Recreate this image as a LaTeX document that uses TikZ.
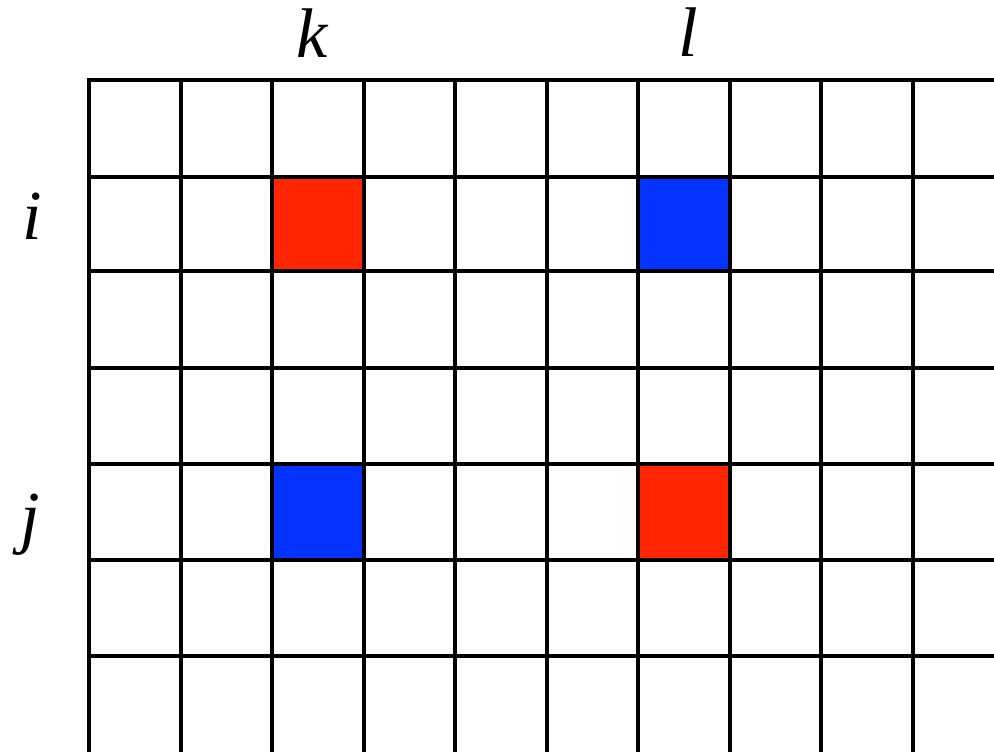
\documentclass[tikz,border=0pt]{standalone}
\usepackage{fontspec}
\setmainfont{Liberation Serif}
\definecolor{cellred}{RGB}{255,38,0}
\definecolor{cellblue}{RGB}{4,51,255}
\tikzset{gridline/.style={line width=1.8pt, line cap=rect},
  idx/.style={anchor=base, inner sep=0pt, font=\fontsize{40}{42}\selectfont\itshape}}
\begin{document}
\begin{tikzpicture}[x=0.02cm,y=-0.02cm]
\useasboundingbox (0,0) rectangle (994,751);
\fill[cellred] (272,177) rectangle (364,271);
\fill[cellblue] (638,177) rectangle (730,271);
\fill[cellblue] (272,464) rectangle (364,560);
\fill[cellred] (638,464) rectangle (730,560);
\foreach \x in {89,181,272,364,455,547,638,730,821,913}
  \draw[gridline] (\x,80) -- (\x,760);
\foreach \y in {80,177,271,368,464,560,656}
  \draw[gridline] (89,\y) -- (1000,\y);
\node[idx] (k) at (312,57) {k};
\node[idx] (l) at (688,56) {l};
\node[idx] (i) at (32,239) {i};
\node[idx] (j) at (30,540) {j};
\end{tikzpicture}
\end{document}
